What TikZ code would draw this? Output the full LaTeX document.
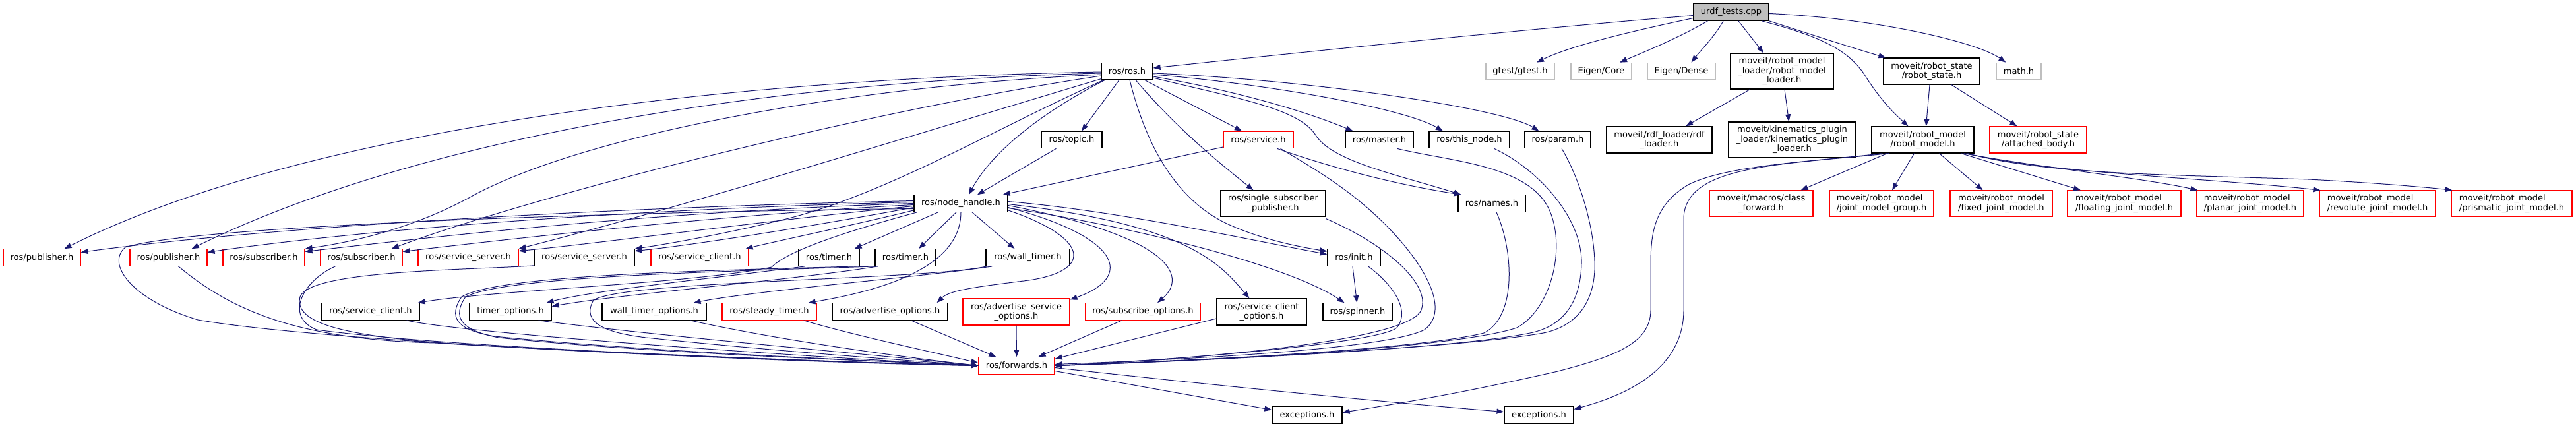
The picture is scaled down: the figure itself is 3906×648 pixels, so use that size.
\documentclass[tikz,border=0pt]{standalone}
\usepackage{fontspec}
\setmainfont{DejaVu Sans}
\usetikzlibrary{arrows.meta,calc}
\definecolor{edgec}{HTML}{191970}
\definecolor{grayb}{HTML}{BFBFBF}
\newcommand\nfs{\fontsize{13}{14.5}\selectfont}
\begin{document}
\begin{tikzpicture}[x=1pt,y=-1pt,
  nd/.style={draw=black, line width=1.2pt, fill=white, inner sep=0pt, font=\nfs, align=center, minimum height=25.5pt},
  rd/.style={nd, draw=red},
  gd/.style={nd, draw=grayb},
  lft/.style={align=left},
  e/.style={draw=edgec, line width=1pt, -{Triangle[length=11pt,width=8pt]}}]
\useasboundingbox (0,0) rectangle (3906,648);
% rank 0
\node[nd, fill=grayb, minimum width=114pt] (urdf) at (2625,18.5) {urdf\_tests.cpp};
% rank 1
\node[nd, minimum width=78pt] (rosros) at (1709,108) {ros/ros.h};
\node[gd, minimum width=104pt] (gtest) at (2305,108) {gtest/gtest.h};
\node[gd, minimum width=92pt] (eigencore) at (2428,108) {Eigen/Core};
\node[gd, minimum width=103pt] (eigendense) at (2549.5,108) {Eigen/Dense};
\node[nd, minimum width=156pt, minimum height=54pt] (rml) at (2702,108) {moveit/robot\_model\\\_loader/robot\_model\\\_loader.h};
\node[nd, minimum width=146pt, minimum height=40pt] (rstate) at (2929,108) {moveit/robot\_state\\/robot\_state.h};
\node[gd, minimum width=68pt] (math) at (3061,108) {math.h};
% rank 2
\node[nd, minimum width=92pt] (topic) at (1625,212) {ros/topic.h};
\node[rd, minimum width=106pt] (service) at (1908,212) {ros/service.h};
\node[nd, minimum width=103pt] (master) at (2091.5,212) {ros/master.h};
\node[nd, minimum width=122pt] (thisnode) at (2228,212) {ros/this\_node.h};
\node[nd, minimum width=100pt] (param) at (2362,212) {ros/param.h};
\node[nd, minimum width=160pt, minimum height=40pt] (rdf) at (2516,212) {moveit/rdf\_loader/rdf\\\_loader.h};
\node[nd, minimum width=193pt, minimum height=54pt] (kpl) at (2717.5,212) {moveit/kinematics\_plugin\\\_loader/kinematics\_plugin\\\_loader.h};
\node[nd, minimum width=155pt, minimum height=40pt] (rmodel) at (2915.5,212) {moveit/robot\_model\\/robot\_model.h};
\node[rd, minimum width=147pt, minimum height=40pt] (attached) at (3090.5,212) {moveit/robot\_state\\/attached\_body.h};
% rank 3
\node[nd, minimum width=142pt] (nh) at (1457,308.5) {ros/node\_handle.h};
\node[nd, minimum width=159pt, minimum height=39pt] (ssp) at (1930.5,308.5) {ros/single\_subscriber\\\_publisher.h};
\node[nd, minimum width=102pt] (names) at (2262,308.5) {ros/names.h};
\node[rd, minimum width=157pt, minimum height=39pt] (classfwd) at (2670.5,308.5) {moveit/macros/class\\\_forward.h};
\node[rd, lft, minimum width=158pt, minimum height=39pt] (jmg) at (2853,308.5) {moveit/robot\_model\\/joint\_model\_group.h};
\node[rd, lft, minimum width=155pt, minimum height=39pt] (fixed) at (3034.5,308.5) {moveit/robot\_model\\/fixed\_joint\_model.h};
\node[rd, lft, minimum width=172pt, minimum height=39pt] (floating) at (3221,308.5) {moveit/robot\_model\\/floating\_joint\_model.h};
\node[rd, lft, minimum width=162pt, minimum height=39pt] (planar) at (3412,308.5) {moveit/robot\_model\\/planar\_joint\_model.h};
\node[rd, lft, minimum width=176pt, minimum height=39pt] (revolute) at (3605,308.5) {moveit/robot\_model\\/revolute\_joint\_model.h};
\node[rd, lft, minimum width=183pt, minimum height=39pt] (prismatic) at (3808.5,308.5) {moveit/robot\_model\\/prismatic\_joint\_model.h};
% rank 4
\node[rd, minimum width=117pt] (pub1) at (63.5,390.5) {ros/publisher.h};
\node[rd, minimum width=117pt] (pub2) at (255.5,390.5) {ros/publisher.h};
\node[rd, minimum width=124pt] (sub1) at (400,390.5) {ros/subscriber.h};
\node[rd, minimum width=124pt] (sub2) at (548,390.5) {ros/subscriber.h};
\node[rd, minimum width=152pt] (ssrv1) at (710,390.5) {ros/service\_server.h};
\node[nd, minimum width=152pt] (ssrv2) at (886,390.5) {ros/service\_server.h};
\node[rd, minimum width=148pt] (scli1) at (1061,390.5) {ros/service\_client.h};
\node[nd, minimum width=92pt] (timer1) at (1257,390.5) {ros/timer.h};
\node[nd, minimum width=92pt] (timer2) at (1373,390.5) {ros/timer.h};
\node[nd, minimum width=127pt] (walltimer) at (1558.5,390.5) {ros/wall\_timer.h};
\node[nd, minimum width=80pt] (init) at (2053,390.5) {ros/init.h};
% rank 5
\node[nd, minimum width=148pt] (scli2) at (562,472.5) {ros/service\_client.h};
\node[nd, minimum width=124pt] (timeropt) at (774,472.5) {timer\_options.h};
\node[nd, minimum width=158pt] (wtopt) at (992,472.5) {wall\_timer\_options.h};
\node[rd, minimum width=143pt] (steady) at (1166.5,472.5) {ros/steady\_timer.h};
\node[nd, minimum width=175pt] (advopt) at (1349.5,472.5) {ros/advertise\_options.h};
\node[rd, minimum width=162pt, minimum height=40pt] (advsrv) at (1541,473) {ros/advertise\_service\\\_options.h};
\node[rd, minimum width=174pt] (subopt) at (1733,472.5) {ros/subscribe\_options.h};
\node[nd, minimum width=136pt, minimum height=40pt] (scliopt) at (1913,473) {ros/service\_client\\\_options.h};
\node[nd, minimum width=105pt] (spinner) at (2058.5,472.5) {ros/spinner.h};
% rank 6,7
\node[rd, minimum width=115pt] (forwards) at (1541.5,554.5) {ros/forwards.h};
\node[nd, minimum width=106pt] (exc1) at (1982,629.5) {exceptions.h};
\node[nd, minimum width=105pt] (exc2) at (2333.5,629.5) {exceptions.h};

% ---- edges from urdf
\draw[e] ($(urdf.west)+(0,5)$) .. controls (2300,45) and (1950,82) .. ($(rosros.east)+(0,-5)$);
\draw[e] ($(urdf.west)+(0,9)$) .. controls (2470,48) and (2380,70) .. ($(gtest.north)+(25,0)$);
\draw[e] ($(urdf.south west)+(22,0)$) .. controls (2540,60) and (2490,80) .. ($(eigencore.north)+(28,0)$);
\draw[e] ($(urdf.south)+(-12,0)$) .. controls (2600,55) and (2580,75) .. ($(eigendense.north)+(15,0)$);
\draw[e] ($(urdf.south)+(11,0)$) -- ($(rml.north)+(-28,0)$);
\draw[e] ($(urdf.south east)+(-11,0)$) .. controls (2760,55) and (2800,75) .. (2825,110) .. controls (2850,150) and (2870,170) .. ($(rmodel.north)+(-22,0)$);
\draw[e] (urdf.south east) .. controls (2740,50) and (2800,70) .. ($(rstate.north west)+(4,0)$);
\draw[e] ($(urdf.east)+(0,2)$) .. controls (2850,28) and (3000,65) .. ($(math.north west)+(15,0)$);
% ---- moveit
\draw[e] ($(rml.south west)+(30,0)$) -- ($(rdf.north)+(40,0)$);
\draw[e] ($(rml.south)+(4,0)$) -- ($(kpl.north)+(-5,0)$);
\draw[e] ($(rstate.south)+(-3,0)$) -- ($(rmodel.north)+(5,0)$);
\draw[e] ($(rstate.south)+(30,0)$) -- ($(attached.north)+(-32,0)$);
\draw[e] ($(rmodel.south west)+(24,0)$) -- ($(classfwd.north)+(60,0)$);
\draw[e] ($(rmodel.south)+(-13,0)$) -- ($(jmg.north)+(16,0)$);
\draw[e] ($(rmodel.south)+(25,0)$) -- ($(fixed.north)+(-28,0)$);
\draw[e] ($(rmodel.south east)+(-20,0)$) -- ($(floating.north)+(-66,0)$);
\draw[e] ($(rmodel.south east)+(-16,0)$) .. controls (3100,255) and (3250,270) .. ($(planar.north west)+(2,0)$);
\draw[e] ($(rmodel.south east)+(-12,0)$) .. controls (3100,262) and (3350,270) .. ($(revolute.north west)+(2,0)$);
\draw[e] ($(rmodel.south east)+(-10,0)$) .. controls (3100,265) and (3300,265) .. (3500,272) .. controls (3600,277) and (3680,284) .. ($(prismatic.north west)+(2,0)$);
\draw[e] ($(rmodel.south west)+(17,0)$) .. controls (2750,245) and (2620,250) .. (2560,280) .. controls (2510,310) and (2503,350) .. (2503,400) -- (2503,470) .. controls (2503,520) and (2450,540) .. (2362,563) .. controls (2200,600) and (2100,615) .. ($(exc1.east)+(0,-4)$);
\draw[e] ($(rmodel.south west)+(27,0)$) .. controls (2700,250) and (2556,250) .. (2553,330) -- (2553,470) .. controls (2553,540) and (2500,590) .. ($(exc2.east)+(0,-9)$);
\draw[e] ($(forwards.east)+(0,8)$) -- ($(exc1.west)+(0,-8)$);
\draw[e] ($(forwards.east)+(0,3)$) .. controls (1800,580) and (2100,610) .. ($(exc2.west)+(0,-5)$);
% ---- ros.h
\draw[e] ($(rosros.south west)+(6,0)$) .. controls (1600,160) and (1510,220) .. ($(nh.north)+(12,0)$);
\draw[e] ($(topic.south west)+(23,0)$) -- ($(nh.north)+(25,0)$);
\draw[e] ($(service.west)+(0,11)$) -- ($(nh.north east)+(-8,0)$);
\draw[e] ($(rosros.south)+(-12,0)$) -- ($(topic.north)+(15,0)$);
\draw[e] ($(rosros.south east)+(-13,0)$) -- ($(service.north)+(-25,0)$);
\draw[e] ($(rosros.south)+(13,0)$) .. controls (1780,190) and (1840,240) .. ($(ssp.north)+(-30,0)$);
\draw[e] ($(rosros.south)+(4,0)$) .. controls (1740,230) and (1790,310) .. (1869,343) .. controls (1920,365) and (1975,375) .. ($(init.north west)+(0,4)$);
\draw[e] ($(rosros.east)+(0,8)$) .. controls (1860,135) and (1970,165) .. ($(master.north)+(-40,0)$);
\draw[e] ($(rosros.east)+(0,10)$) .. controls (1880,150) and (1970,165) .. (1995,205) .. controls (2020,245) and (2120,265) .. ($(names.north west)+(5,0)$);
\draw[e] ($(rosros.east)+(0,5)$) .. controls (1930,128) and (2130,165) .. ($(thisnode.north)+(-40,0)$);
\draw[e] ($(rosros.east)+(0,3)$) .. controls (2000,122) and (2280,165) .. ($(param.north west)+(22,0)$);
\draw[e] ($(service.south east)+(-25,0)$) .. controls (2050,265) and (2150,285) .. ($(names.north west)+(5,0)$);
\draw[e] ($(rosros.west)+(0,1)$) .. controls (1000,122) and (420,215) .. ($(pub1.north east)+(-25,0)$);
\draw[e] ($(rosros.west)+(0,3)$) .. controls (1100,125) and (600,225) .. ($(pub2.north east)+(-24,0)$);
\draw[e] ($(rosros.west)+(0,5)$) .. controls (1300,130) and (900,200) .. (720,295) .. controls (640,340) and (550,365) .. (sub1.north east);
\draw[e] ($(rosros.west)+(0,7)$) .. controls (1300,170) and (800,300) .. ($(sub2.north east)+(-17,0)$);
\draw[e] ($(rosros.south west)+(1,-2)$) .. controls (1400,200) and (1050,310) .. (ssrv1.north east);
\draw[e] ($(rosros.south west)+(4,0)$) .. controls (1500,200) and (1350,290) .. (1200,330) .. controls (1100,355) and (1000,372) .. (ssrv2.north east);
% ---- right side into forwards
\draw[e] ($(service.south east)+(-20,0)$) .. controls (2000,260) and (2050,290) .. (2100,340) .. controls (2160,400) and (2200,470) .. (2160,500) .. controls (2100,530) and (1800,545) .. ($(forwards.east)+(0,-2)$);
\draw[e] ($(ssp.south east)+(0,3)$) .. controls (2100,370) and (2170,430) .. (2155,470) .. controls (2140,510) and (1900,540) .. (forwards.east);
\draw[e] ($(init.south east)+(-19,0)$) .. controls (2110,430) and (2140,470) .. (2118,497) .. controls (2090,520) and (1800,545) .. (forwards.east);
\draw[e] ($(init.south)+(-2,0)$) -- ($(spinner.north)+(-1,0)$);
\draw[e] ($(names.south)+(7,0)$) .. controls (2295,380) and (2300,480) .. (2250,505) .. controls (2150,530) and (1800,548) .. (forwards.east);
\draw[e] ($(master.south east)+(-25,0)$) .. controls (2200,245) and (2320,250) .. (2350,320) .. controls (2375,380) and (2350,470) .. (2300,497) .. controls (2200,530) and (1800,548) .. (forwards.east);
\draw[e] ($(thisnode.south east)+(-24,0)$) .. controls (2330,255) and (2400,330) .. (2398,400) .. controls (2396,470) and (2360,497) .. (2320,505) .. controls (2200,530) and (1800,548) .. (forwards.east);
\draw[e] ($(param.south)+(6,0)$) .. controls (2395,270) and (2420,350) .. (2418,410) .. controls (2415,470) and (2380,497) .. (2340,505) .. controls (2200,530) and (1800,546) .. (forwards.east);
% ---- node_handle
\draw[e] ($(nh.west)+(0,-4)$) .. controls (900,315) and (400,345) .. ($(pub1.east)+(0,-8)$);
\draw[e] ($(nh.west)+(0,-2)$) .. controls (900,318) and (500,355) .. ($(pub2.east)+(0,-8)$);
\draw[e] (nh.west) .. controls (1000,320) and (650,360) .. ($(sub1.east)+(0,-9)$);
\draw[e] ($(nh.west)+(0,2)$) .. controls (1100,325) and (750,365) .. ($(sub2.east)+(0,-9)$);
\draw[e] ($(nh.west)+(0,4)$) .. controls (1200,330) and (900,370) .. ($(ssrv1.east)+(0,-10)$);
\draw[e] ($(nh.west)+(0,6)$) .. controls (1250,340) and (1050,372) .. ($(ssrv2.east)+(0,-10)$);
\draw[e] ($(nh.south west)+(0,-3)$) .. controls (1300,340) and (1180,365) .. ($(scli1.north east)+(-5,0)$);
\draw[e] ($(nh.south west)+(37,0)$) -- ($(timer1.north east)+(-8,0)$);
\draw[e] ($(nh.south)+(-7,0)$) -- ($(timer2.north)+(20,0)$);
\draw[e] ($(nh.south)+(17,0)$) -- ($(walltimer.north)+(-20,0)$);
\draw[e] ($(nh.east)+(0,-3)$) .. controls (1700,320) and (1900,365) .. ($(init.west)+(0,-5)$);
\draw[e] ($(nh.east)+(0,7)$) .. controls (1700,340) and (1950,400) .. ($(spinner.north)+(-20,0)$);
\draw[e] ($(nh.south west)+(5,0)$) .. controls (1250,360) and (1190,385) .. (1170,405) .. controls (1050,430) and (750,440) .. ($(scli2.north east)+(-3,0)$);
\draw[e] ($(timer1.south west)+(10,0)$) .. controls (1100,420) and (900,440) .. ($(timeropt.north east)+(-8,0)$);
\draw[e] ($(timer2.south west)+(5,0)$) .. controls (1200,425) and (950,445) .. ($(timeropt.east)+(0,-8)$);
\draw[e] ($(walltimer.south west)+(10,0)$) .. controls (1400,420) and (1150,440) .. ($(wtopt.north east)+(-20,0)$);
\draw[e] (nh.south) .. controls (1457,380) and (1400,430) .. ($(steady.north east)+(-13,0)$);
\draw[e] ($(nh.south east)+(0,-3)$) .. controls (1650,360) and (1660,410) .. (1560,425) .. controls (1480,435) and (1440,440) .. ($(advopt.north east)+(-17,0)$);
\draw[e] ($(nh.east)+(0,6)$) .. controls (1700,360) and (1720,420) .. ($(advsrv.north east)+(0,2)$);
\draw[e] ($(nh.east)+(0,3)$) .. controls (1780,360) and (1800,420) .. ($(subopt.north)+(22,0)$);
\draw[e] ($(nh.east)+(0,1)$) .. controls (1800,340) and (1850,400) .. ($(scliopt.north west)+(50,0)$);
% ---- into forwards from the left
\draw[e] ($(nh.west)+(0,8)$) .. controls (1000,320) and (300,340) .. (190,375) .. controls (160,400) and (200,455) .. (300,485) .. controls (500,520) and (1200,550) .. (forwards.west);
\draw[e] ($(pub2.south)+(15,0)$) .. controls (350,470) and (450,515) .. (660,520) .. controls (900,535) and (1300,550) .. (forwards.west);
\draw[e] ($(sub2.south west)+(23,0)$) .. controls (460,425) and (430,480) .. (480,500) .. controls (700,530) and (1300,550) .. (forwards.west);
\draw[e] ($(ssrv2.south west)+(0,-1)$) .. controls (700,410) and (470,410) .. (455,450) .. controls (445,490) and (520,510) .. (700,522) .. controls (1000,540) and (1300,550) .. (forwards.west);
\draw[e] ($(timer1.south east)+(-5,0)$) .. controls (1100,410) and (760,415) .. (700,450) .. controls (680,480) and (690,500) .. (750,510) .. controls (1000,535) and (1350,548) .. (forwards.west);
\draw[e] ($(timer2.south west)+(1,0)$) .. controls (1100,412) and (770,418) .. (706,450) .. controls (686,480) and (696,500) .. (756,512) .. controls (1000,537) and (1350,548) .. (forwards.west);
\draw[e] ($(walltimer.south west)+(2,0)$) .. controls (1400,425) and (950,425) .. (900,455) .. controls (880,490) and (920,505) .. (980,512) .. controls (1200,535) and (1400,548) .. (forwards.west);
\draw[e] ($(scli2.south east)+(-20,0)$) .. controls (700,505) and (1200,540) .. (forwards.west);
\draw[e] ($(timeropt.south east)+(-20,0)$) .. controls (1000,510) and (1350,540) .. (forwards.west);
\draw[e] ($(wtopt.south east)+(-25,0)$) .. controls (1200,520) and (1400,545) .. (forwards.west);
\draw[e] ($(steady.south east)+(-20,0)$) .. controls (1300,510) and (1420,535) .. ($(forwards.west)+(0,-4)$);
\draw[e] ($(advopt.south)+(32,0)$) -- ($(forwards.north west)+(27,0)$);
\draw[e] (advsrv.south) -- (forwards.north);
\draw[e] ($(subopt.south)+(-32,0)$) -- ($(forwards.north)+(33,0)$);
\draw[e] ($(scliopt.west)+(0,10)$) -- ($(forwards.north east)+(0,3)$);
\end{tikzpicture}
\end{document}
